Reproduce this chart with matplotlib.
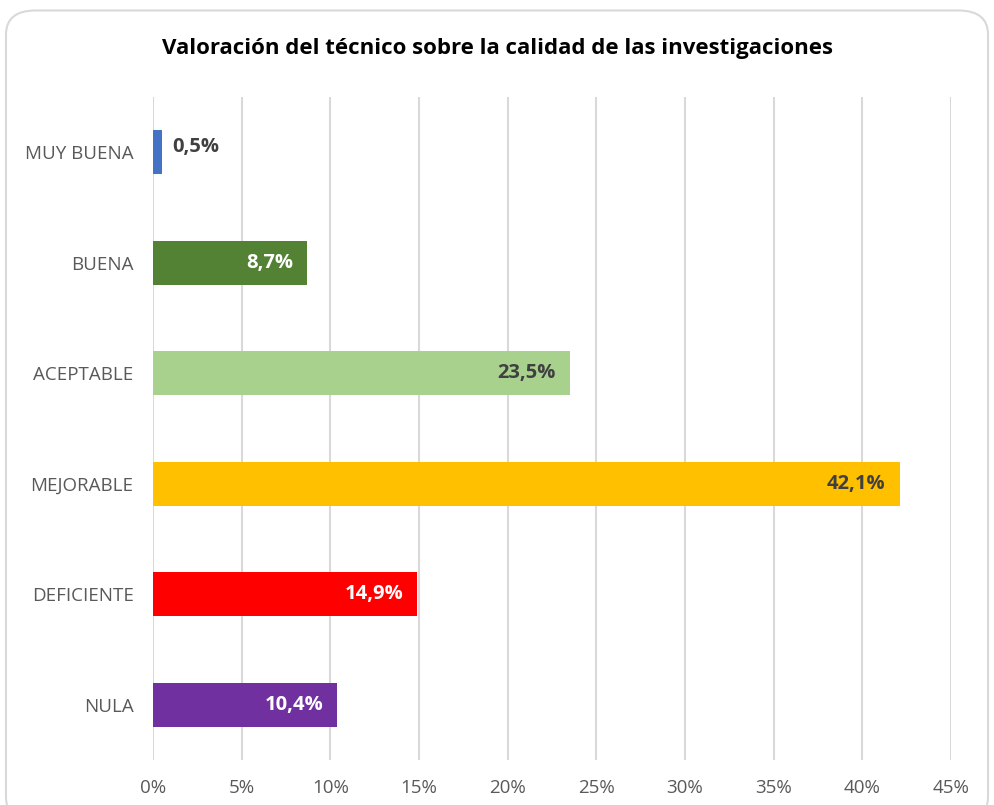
import matplotlib.pyplot as plt
from matplotlib.patches import FancyBboxPatch
from matplotlib.ticker import FuncFormatter

categories = ["MUY BUENA", "BUENA", "ACEPTABLE", "MEJORABLE", "DEFICIENTE", "NULA"]
values = [0.5, 8.7, 23.5, 42.1, 14.9, 10.4]
colors = ["#4472C4", "#548235", "#A9D18E", "#FFC000", "#FF0000", "#7030A0"]
label_colors = ["#404040", "white", "#404040", "#404040", "white", "white"]
xticks = [0, 5, 10, 15, 20, 25, 30, 35, 40, 45]

plt.rcParams["font.family"] = ["Open Sans", "DejaVu Sans"]

fig = plt.figure(figsize=(9.94, 8.05), dpi=100)
frame = FancyBboxPatch((0.006, -0.02), 0.988, 1.007, boxstyle="round,pad=0,rounding_size=0.03",
                       transform=fig.transFigure, facecolor="white", edgecolor="#D9D9D9",
                       linewidth=1.5, zorder=-10)
fig.patches.append(frame)

ax = fig.add_axes([0.1539, 0.0559, 0.8028, 0.8236])
ax.set_facecolor("none")
y = list(range(len(categories)))
ax.barh(y, values, height=0.4, color=colors, zorder=2)

for i, (v, c) in enumerate(zip(values, label_colors)):
    if v < 2:
        ax.text(v + 0.6, i - 0.05, f"{v:.1f}%".replace(".", ","), ha="left", va="center",
                fontsize=14.5, fontweight="bold", color=c, zorder=3)
    else:
        ax.text(v - 0.8, i, f"{v:.1f}%".replace(".", ","), ha="right", va="center",
                fontsize=14.5, fontweight="bold", color=c, zorder=3)

ax.set_ylim(len(categories) - 0.5, -0.5)
ax.set_yticks(y)
ax.set_yticklabels(categories)
ax.set_xlim(0, 45)
ax.set_xticks(xticks)
ax.xaxis.set_major_formatter(FuncFormatter(lambda x, p: f"{x:.0f}%"))
ax.grid(axis="x", color="#D9D9D9", linewidth=1.5, zorder=0)
ax.set_axisbelow(True)
for s in ax.spines.values():
    s.set_visible(False)
ax.tick_params(axis="both", length=0, colors="#595959", labelsize=13.5)
ax.tick_params(axis="x", pad=14)
ax.tick_params(axis="y", pad=14)

fig.text(0.5, 0.94, "Valoración del técnico sobre la calidad de las investigaciones",
         ha="center", va="center", fontsize=16, fontweight="bold", color="black")

fig.savefig("out.png", dpi=100)
